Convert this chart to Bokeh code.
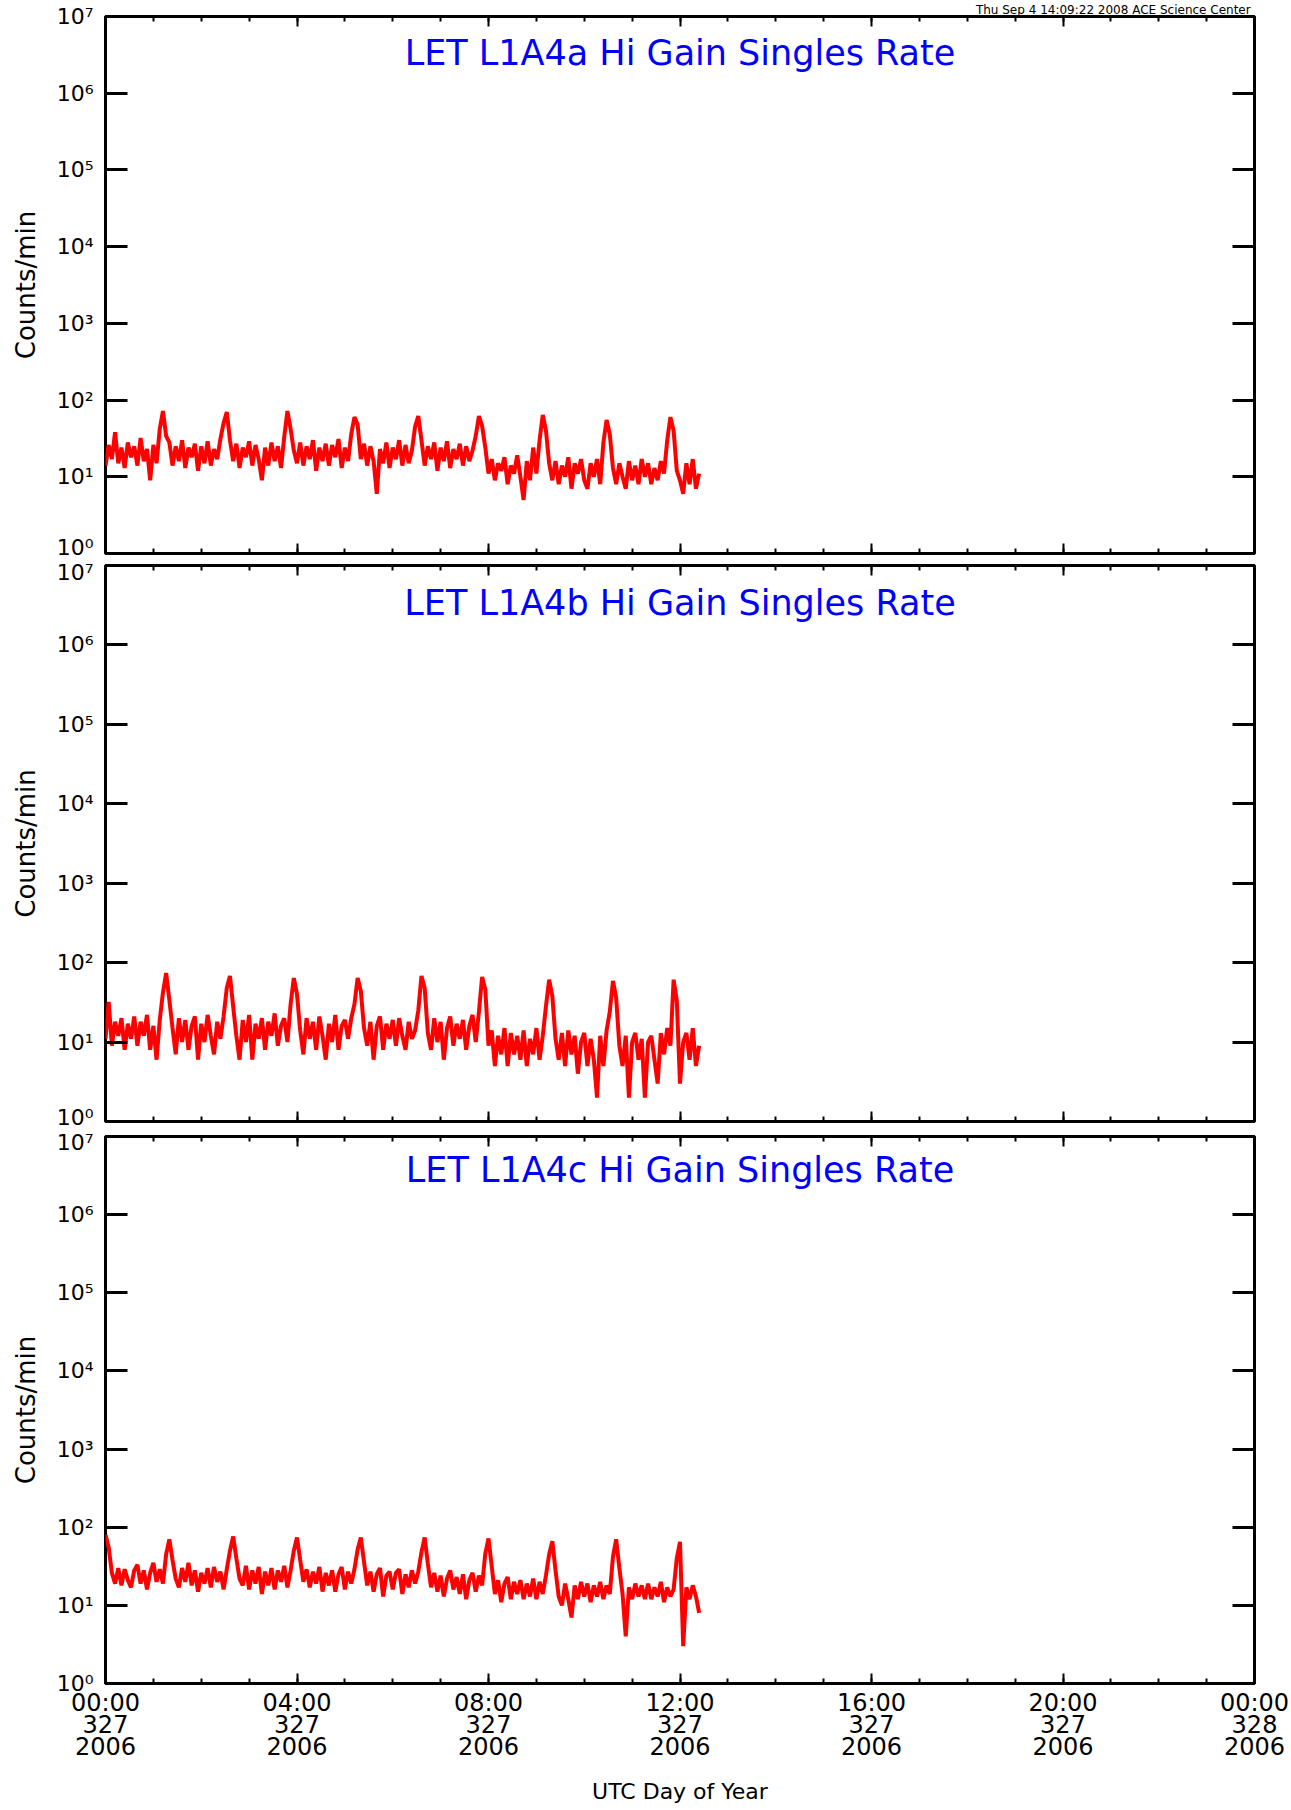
from bokeh.plotting import figure
from bokeh.models import FixedTicker, LinearAxis, Label, Range1d, CustomLabelingPolicy, Title
from bokeh.layouts import column
from bokeh.embed import file_html
from bokeh.resources import INLINE

# ---- data (4-minute samples, day 327 of 2006) ----
minutes = list(range(0, 748, 4))
hours = [m / 60.0 for m in minutes]

rate_a = [14, 26, 17, 38, 15, 24, 13, 28, 18, 25,
          14, 32, 16, 23, 9, 26, 15, 42, 72, 34,
          28, 14, 25, 16, 30, 13, 24, 18, 27, 12,
          25, 15, 29, 14, 23, 17, 31, 50, 70, 30,
          16, 27, 13, 24, 18, 29, 14, 26, 17, 9,
          24, 14, 28, 16, 25, 13, 33, 72, 42, 22,
          15, 28, 14, 25, 17, 30, 12, 24, 16, 27,
          14, 26, 18, 31, 13, 24, 16, 36, 60, 48,
          17, 27, 14, 25, 16, 6, 23, 15, 28, 13,
          24, 17, 30, 14, 26, 15, 22, 45, 62, 30,
          14, 25, 17, 28, 12, 24, 16, 29, 13, 23,
          17, 27, 14, 25, 16, 22, 34, 62, 46, 24,
          11, 17, 9, 15, 12, 18, 8, 14, 11, 19,
          10, 5, 16, 9, 24, 11, 30, 64, 40, 15,
          9, 16, 8, 14, 10, 18, 7, 15, 11, 17,
          9, 7, 15, 10, 17, 8, 28, 55, 36, 13,
          8, 15, 10, 7, 16, 9, 14, 8, 17, 10,
          15, 8, 13, 9, 16, 11, 30, 60, 40, 12,
          9, 6, 15, 8, 17, 7, 11]

rate_b = [11, 32, 9, 18, 12, 20, 8, 17, 11, 21,
          9, 18, 12, 22, 8, 16, 6, 19, 42, 74,
          34, 15, 7, 20, 10, 19, 8, 16, 21, 6,
          17, 10, 22, 12, 7, 18, 11, 21, 48, 68,
          28, 12, 6, 19, 10, 22, 6, 17, 11, 20,
          8, 18, 12, 23, 9, 16, 20, 10, 30, 64,
          40, 14, 7, 20, 11, 18, 8, 21, 12, 6,
          17, 10, 22, 8, 16, 19, 11, 20, 30, 64,
          44, 15, 9, 18, 6, 16, 21, 8, 17, 11,
          19, 9, 20, 12, 8, 18, 11, 14, 25, 68,
          48, 13, 8, 20, 10, 18, 6, 15, 21, 9,
          17, 11, 19, 8, 16, 22, 10, 24, 66, 46,
          9, 14, 5, 12, 7, 15, 5, 13, 7, 12,
          6, 14, 5, 11, 7, 15, 6, 12, 28, 61,
          38, 11, 6, 13, 5, 14, 7, 12, 4, 10,
          13, 5, 11, 6, 2, 12, 5, 14, 24, 59,
          36, 9, 5, 12, 2, 10, 13, 6, 11, 2,
          10, 12, 6, 3, 13, 7, 15, 9, 61, 33,
          3, 10, 13, 6, 15, 5, 9]

rate_c = [80, 55, 26, 19, 30, 18, 29, 21, 17, 28,
          33, 19, 28, 16, 26, 35, 20, 29, 19, 45,
          70, 38, 22, 17, 30, 20, 35, 18, 28, 15,
          26, 19, 30, 17, 31, 20, 27, 16, 29, 50,
          76, 40, 22, 18, 32, 16, 28, 19, 31, 14,
          27, 18, 30, 16, 28, 20, 32, 17, 28, 50,
          74, 38, 20, 29, 17, 27, 19, 31, 15, 26,
          18, 28, 15, 25, 31, 16, 27, 19, 29, 52,
          74, 36, 18, 27, 15, 25, 30, 13, 24, 27,
          16, 26, 29, 14, 25, 17, 28, 19, 27, 48,
          74, 34, 17, 26, 15, 24, 13, 22, 28, 16,
          23, 14, 25, 12, 21, 26, 15, 24, 18, 46,
          72, 32, 14, 21, 11, 19, 23, 12, 20, 14,
          21, 12, 19, 13, 22, 12, 20, 14, 24, 45,
          66, 28, 13, 10, 19, 12, 7, 18, 12, 20,
          13, 19, 11, 18, 13, 20, 12, 18, 14, 42,
          70, 30, 14, 4, 17, 12, 19, 13, 18, 12,
          19, 12, 17, 13, 20, 11, 17, 13, 16, 40,
          65, 3, 17, 12, 18, 13, 8]

titles = ["LET L1A4a Hi Gain Singles Rate",
          "LET L1A4b Hi Gain Singles Rate",
          "LET L1A4c Hi Gain Singles Rate"]

x_ticks = [0, 4, 8, 12, 16, 20, 24]
x_minor = list(range(0, 25))
x_tick_labels = ["00:00\n327\n2006", "04:00\n327\n2006", "08:00\n327\n2006",
                 "12:00\n327\n2006", "16:00\n327\n2006", "20:00\n327\n2006",
                 "00:00\n328\n2006"]
y_ticks = [1, 10, 100, 1000, 10000, 100000, 1000000, 10000000]
y_tick_labels = ["10\u2070", "10\u00b9", "10\u00b2", "10\u00b3",
                 "10\u2074", "10\u2075", "10\u2076", "10\u2077"]
stamp = "Thu Sep  4 14:09:22 2008 ACE Science Center"

FONT = "DejaVu Sans"

NO_LABELS = """
const all = [];
for (const i of indices) all.push(i);
for (const i of all) indices.unset(i);
return indices;
"""


def hide_labels(ax):
    ax.major_label_text_font_size = "0px"
    ax.major_label_standoff = 0
    ax.major_label_policy = CustomLabelingPolicy(code=NO_LABELS)


def style_x(ax, labels):
    ax.ticker = FixedTicker(ticks=x_ticks, minor_ticks=x_minor)
    ax.major_tick_in = 10
    ax.major_tick_out = 0
    ax.minor_tick_in = 5
    ax.minor_tick_out = 0
    ax.major_tick_line_width = 2
    ax.minor_tick_line_width = 2
    ax.major_tick_line_color = "black"
    ax.minor_tick_line_color = "black"
    ax.axis_line_color = None
    if labels:
        ax.major_label_overrides = dict(zip(x_ticks, x_tick_labels))
        ax.major_label_text_font = FONT
        ax.major_label_text_font_size = "24px"
        ax.major_label_text_line_height = 0.8
        ax.major_label_text_color = "black"
        ax.major_label_standoff = 5
    else:
        hide_labels(ax)


def style_y(ax, labels):
    ax.ticker = FixedTicker(ticks=y_ticks, minor_ticks=[])
    ax.major_tick_in = 22
    ax.major_tick_out = 0
    ax.minor_tick_in = 0
    ax.minor_tick_out = 0
    ax.major_tick_line_width = 3
    ax.major_tick_line_color = "black"
    ax.axis_line_color = None
    if labels:
        ax.major_label_overrides = dict(zip(y_ticks, y_tick_labels))
        ax.major_label_text_font = FONT
        ax.major_label_text_font_size = "22px"
        ax.major_label_text_color = "black"
        ax.major_label_standoff = 12
    else:
        hide_labels(ax)


def make_panel(vals, title, frame_h, b_top, b_bottom, title_off, bottom_labels,
               stamp_text=None):
    p = figure(frame_width=1149, frame_height=frame_h,
               x_range=Range1d(0, 24), y_range=Range1d(1, 1e7),
               y_axis_type="log", output_backend="svg", toolbar_location=None,
               min_border_left=105, min_border_right=37,
               min_border_top=b_top, min_border_bottom=b_bottom)
    p.background_fill_color = "white"
    p.border_fill_color = "white"
    p.outline_line_color = "black"
    p.outline_line_width = 3
    p.xgrid.visible = False
    p.ygrid.visible = False

    style_x(p.xaxis[0], bottom_labels)
    if bottom_labels:
        p.xaxis[0].axis_label = "UTC Day of Year"
        p.xaxis[0].axis_label_text_font = FONT
        p.xaxis[0].axis_label_text_font_size = "22px"
        p.xaxis[0].axis_label_text_font_style = "normal"
        p.xaxis[0].axis_label_text_color = "black"
        p.xaxis[0].axis_label_standoff = 15

    style_y(p.yaxis[0], True)
    p.yaxis[0].axis_label = "Counts/min"
    p.yaxis[0].axis_label_text_font = FONT
    p.yaxis[0].axis_label_text_font_size = "26px"
    p.yaxis[0].axis_label_text_font_style = "normal"
    p.yaxis[0].axis_label_text_color = "black"
    p.yaxis[0].axis_label_standoff = 13

    top = LinearAxis()
    style_x(top, False)
    p.add_layout(top, "above")
    if stamp_text:
        p.add_layout(Title(text=stamp_text, align="right", text_font=FONT,
                           text_font_size="12px", text_font_style="normal",
                           text_color="black", standoff=0, offset=0), "above")
    right = LinearAxis()
    style_y(right, False)
    p.add_layout(right, "right")

    p.line(hours, vals, line_color="red", line_width=4)

    p.add_layout(Label(x=12, y=1e7, y_offset=title_off, text=title,
                       text_align="center", text_baseline="alphabetic",
                       text_color="blue", text_font=FONT, text_font_size="35px"))
    return p


p1 = make_panel(rate_a, titles[0], 537, 15, 6, -36, False, stamp)
p2 = make_panel(rate_b, titles[1], 556, 6, 8, -37, False)
p3 = make_panel(rate_c, titles[2], 547, 7, 127, -33, True)

layout = column(p1, p2, p3, spacing=0)
open("out.html", "w").write(file_html(layout, INLINE))
